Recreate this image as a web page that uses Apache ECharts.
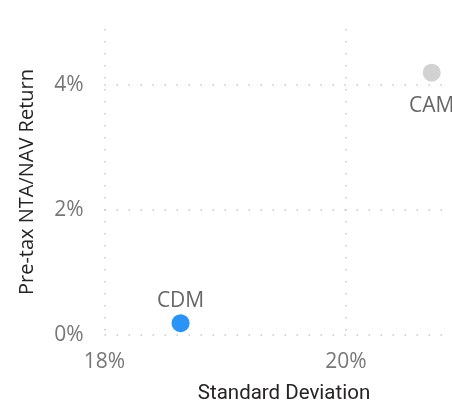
<!DOCTYPE html>
<html>
<head>
<meta charset="utf-8">
<script src="https://cdn.jsdelivr.net/npm/echarts@6/dist/echarts.min.js"></script>
<style>
  html, body { margin: 0; padding: 0; background: #fff; overflow: hidden; }
  #chart { width: 452px; height: 401px; }
</style>
</head>
<body>
<div id="chart"></div>
<script>
// Risk vs return per fund
const names = ['CDM', 'CAM'];
const stdDev = [18.63, 20.71];      // standard deviation, %
const returns = [0.19, 4.20];       // pre-tax NTA/NAV return, %
const colors = ['#2a93f7', '#d2d2d2'];
const labelPos = ['top', 'bottom'];

const xTicks = { min: 18, max: 22, interval: 2 };
const yTicks = { min: 0, max: 4.9, interval: 2 };

const chart = echarts.init(document.getElementById('chart'));

const dotted = { type: [1.5, 10.5], color: '#c8c8c8', width: 1.5 };

chart.setOption({
  animation: false,
  grid: {
    left: 104.5, top: 29, width: 483, height: 306,
    containLabel: false, outerBoundsMode: 'none'
  },
  xAxis: {
    type: 'value',
    min: xTicks.min, max: xTicks.max, interval: xTicks.interval,
    name: 'Standard Deviation',
    nameLocation: 'middle',
    nameGap: 48,
    nameTextStyle: {
      fontFamily: 'Roboto', fontSize: 20.5, color: '#252423',
      padding: [0, 124, 0, 0]
    },
    axisLine: { show: false },
    axisTick: { show: false },
    axisLabel: {
      formatter: v => v + '%',
      fontFamily: 'Open Sans', fontSize: 21, color: '#777', margin: 17
    },
    splitLine: { show: true, lineStyle: dotted }
  },
  yAxis: {
    type: 'value',
    min: yTicks.min, max: yTicks.max, interval: yTicks.interval,
    name: 'Pre-tax NTA/NAV Return',
    nameLocation: 'middle',
    nameGap: 67,
    nameTextStyle: { fontFamily: 'Open Sans', fontSize: 20, color: '#252423' },
    axisLine: { show: false },
    axisTick: { show: false },
    axisLabel: {
      formatter: v => v + '%',
      showMaxLabel: false,
      fontFamily: 'Open Sans', fontSize: 21, color: '#777', margin: 21,
      padding: [8, 0, 0, 0]
    },
    splitLine: { show: true, showMaxLine: false, lineStyle: dotted }
  },
  series: [{
    type: 'scatter',
    symbolSize: 18,
    itemStyle: { opacity: 1 },
    data: names.map((n, i) => ({
      name: n,
      value: [stdDev[i], returns[i]],
      itemStyle: { color: colors[i], opacity: 1 },
      label: { position: labelPos[i], distance: i === 1 ? 14 : 3 }
    })),
    label: {
      show: true,
      formatter: p => p.name,
      fontFamily: 'Open Sans', fontSize: 21, color: '#666'
    }
  }]
});
</script>
</body>
</html>
